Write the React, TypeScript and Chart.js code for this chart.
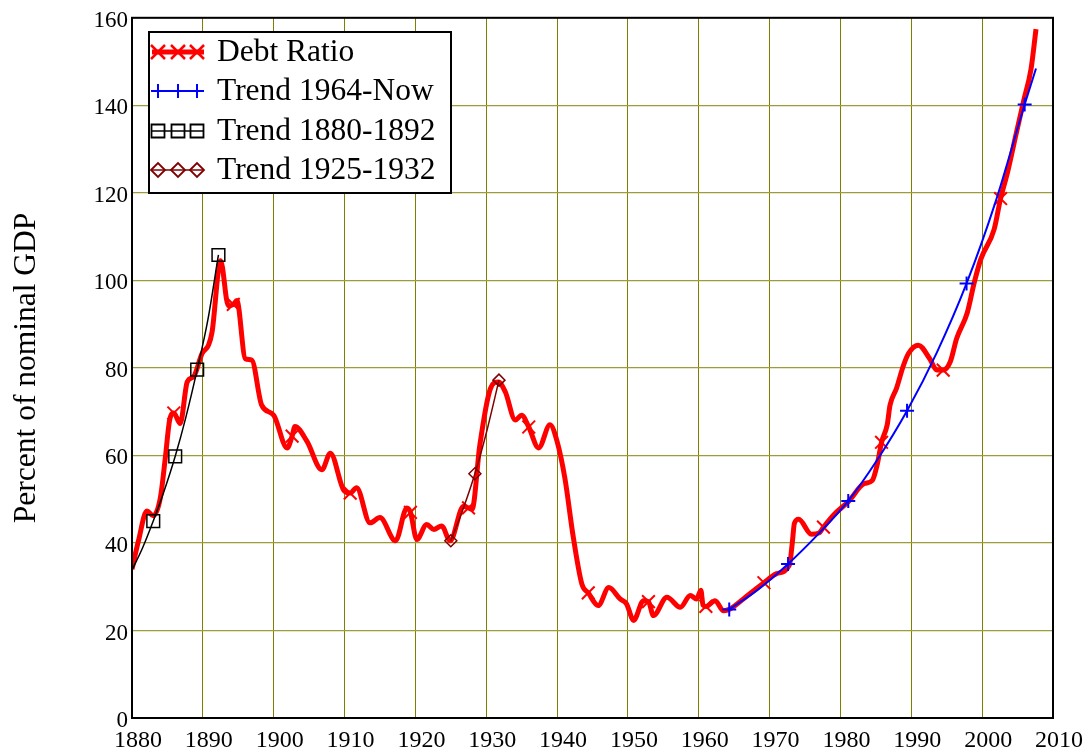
import React, { useEffect, useRef } from "react";
import { Chart, registerables } from "chart.js";

Chart.register(...registerables);

// ---- Data ----
const debtYears = [
  1880.0, 1880.9, 1882.1, 1883.0, 1884.0, 1884.7, 1885.3, 1885.9, 1886.8, 1887.8,
  1888.7, 1889.9, 1890.8, 1891.3, 1892.5, 1893.6, 1894.3, 1894.8, 1896.0, 1896.9,
  1898.3, 1900.0, 1901.9, 1902.6, 1903.0, 1904.7, 1906.8, 1908.0, 1909.9, 1910.8,
  1911.7, 1913.6, 1915.0, 1917.2, 1918.8, 1919.3, 1920.2, 1921.6, 1922.6, 1923.7,
  1924.9, 1926.8, 1927.5, 1928.0, 1929.1, 1930.6, 1931.7, 1932.7, 1934.1, 1935.0,
  1936.0, 1937.4, 1939.0, 1940.0, 1941.1, 1942.3, 1943.5, 1944.4, 1945.8, 1947.3,
  1948.9, 1949.8, 1950.8, 1952.2, 1952.9, 1953.6, 1955.5, 1957.4, 1958.8, 1959.7,
  1960.3, 1960.6, 1961.0, 1962.3, 1963.5, 1964.4, 1966.5, 1969.2, 1971.0, 1972.8,
  1973.2, 1973.5, 1974.1, 1975.9, 1977.0, 1977.6, 1979.1, 1981.2, 1983.3, 1984.5,
  1985.2, 1985.8, 1986.6, 1987.0, 1987.9, 1988.9, 1989.6, 1991.0, 1992.6, 1993.6,
  1994.5, 1995.5, 1996.4, 1997.9, 1998.9, 1999.8, 2001.7, 2002.6, 2003.6, 2004.8,
  2005.9, 2006.9, 2007.6,
];
const debtValues = [
  34.0, 40.4, 47.3, 46.2, 50.3, 59.4, 68.0, 69.7, 67.3, 76.8,
  78.0, 83.3, 85.2, 88.2, 104.5, 94.2, 94.5, 95.4, 82.1, 81.8,
  71.5, 69.2, 61.7, 64.4, 66.6, 63.2, 56.7, 60.5, 52.0, 51.4,
  52.6, 44.6, 45.8, 40.5, 48.0, 47.0, 40.8, 44.2, 43.1, 43.9,
  40.5, 48.4, 48.0, 47.7, 62.4, 75.3, 76.8, 74.5, 68.1, 69.2,
  66.5, 61.7, 67.0, 63.2, 54.8, 41.2, 30.6, 28.6, 25.7, 29.8,
  27.2, 26.1, 22.3, 26.8, 26.6, 23.4, 27.6, 25.3, 28.0, 27.2,
  29.2, 25.8, 25.5, 26.8, 24.5, 24.9, 27.5, 30.9, 33.0, 35.0,
  40.0, 44.5, 45.4, 42.0, 42.3, 43.6, 46.5, 49.6, 53.5, 54.3,
  58.0, 63.0, 67.0, 71.5, 75.3, 80.6, 83.3, 85.2, 82.1, 79.5,
  79.5, 81.4, 86.7, 92.6, 99.6, 104.8, 111.7, 118.7, 124.8, 133.5,
  141.3, 148.3, 157.4,
];
const debtMarkerYears = [
  1885.9, 1894.3, 1902.6, 1910.8, 1919.3, 1927.5, 1936.0, 1944.4, 1952.9,
  1961.0, 1969.2, 1977.6, 1985.8, 1994.5, 2002.6,
];

const trendNowYears = [
  1964.3, 1968.4, 1972.6, 1976.8, 1981.1, 1985.2, 1989.4, 1993.6, 1997.8, 2001.9, 2006.0, 2007.6,
];
const trendNowValues = [
  24.8, 29.4, 35.2, 41.9, 49.6, 59.0, 70.2, 83.5, 99.3, 118.0, 140.2, 148.4,
];
const trendNowMarkerYears = [1964.3, 1972.6, 1981.1, 1989.4, 1997.8, 2006.0];

const trend1880Years = [1880.0, 1881.5, 1883.0, 1884.5, 1886.1, 1887.6, 1889.2, 1890.7, 1892.2];
const trend1880Values = [33.8, 38.9, 45.0, 51.7, 59.8, 68.7, 79.6, 90.9, 105.8];
const trend1880MarkerYears = [1883.0, 1886.1, 1889.2, 1892.2];

const trend1925Years = [1925.0, 1926.7, 1928.4, 1930.1, 1931.8];
const trend1925Values = [40.5, 47.6, 55.8, 65.7, 77.2];
const trend1925MarkerYears = [1925.0, 1928.4, 1931.8];

const xTickYears = [1880, 1890, 1900, 1910, 1920, 1930, 1940, 1950, 1960, 1970, 1980, 1990, 2000, 2010];
const yTickValues = [0, 20, 40, 60, 80, 100, 120, 140, 160];

const seriesLabels = ["Debt Ratio", "Trend 1964-Now", "Trend 1880-1892", "Trend 1925-1932"];
const yAxisTitle = "Percent of nominal GDP";

const SERIF = "'Liberation Serif', 'Times New Roman', 'DejaVu Serif', serif";

function toXY(xs: number[], ys: number[]) {
  return xs.map((x, i) => ({ x, y: ys[i] }));
}

function markerRadius(years: number[], r: number) {
  return (ctx: any) => {
    const raw = ctx.raw;
    return raw && years.includes(raw.x) ? r : 0;
  };
}

function drawMarker(ctx: CanvasRenderingContext2D, kind: string, x: number, y: number) {
  ctx.beginPath();
  if (kind === "x") {
    const d = 7;
    ctx.moveTo(x - d, y - d);
    ctx.lineTo(x + d, y + d);
    ctx.moveTo(x + d, y - d);
    ctx.lineTo(x - d, y + d);
  } else if (kind === "+") {
    const d = 7;
    ctx.moveTo(x - d, y);
    ctx.lineTo(x + d, y);
    ctx.moveTo(x, y - d);
    ctx.lineTo(x, y + d);
  } else if (kind === "sq") {
    const d = 6.5;
    ctx.rect(x - d, y - d, 2 * d, 2 * d);
  } else if (kind === "dm") {
    const d = 7;
    ctx.moveTo(x - d, y);
    ctx.lineTo(x, y - d);
    ctx.lineTo(x + d, y);
    ctx.lineTo(x, y + d);
    ctx.closePath();
  }
  ctx.stroke();
}

const legendPlugin = {
  id: "customLegend",
  afterDraw(chart: any) {
    const ctx: CanvasRenderingContext2D = chart.ctx;
    ctx.save();
    const bx = 149, by = 32, bw = 302, bh = 161;
    ctx.fillStyle = "#ffffff";
    ctx.fillRect(bx, by, bw, bh);
    ctx.lineWidth = 2;
    ctx.strokeStyle = "#000000";
    ctx.strokeRect(bx, by, bw, bh);

    const rows = [
      { color: "#ff0000", lw: 5, mw: 2.5, kind: "x" },
      { color: "#0000ff", lw: 2, mw: 2, kind: "+" },
      { color: "#000000", lw: 1.5, mw: 1.8, kind: "sq" },
      { color: "#800000", lw: 1.5, mw: 1.8, kind: "dm" },
    ];
    const rowY = [52, 91, 131, 170];
    rows.forEach((r, i) => {
      const y = rowY[i];
      ctx.strokeStyle = r.color;
      ctx.lineWidth = r.lw;
      ctx.beginPath();
      ctx.moveTo(152, y);
      ctx.lineTo(204, y);
      ctx.stroke();
      ctx.lineWidth = r.mw;
      [158, 178, 197].forEach((mx) => drawMarker(ctx, r.kind, mx, y));
      ctx.fillStyle = "#000000";
      ctx.font = `31.5px ${SERIF}`;
      ctx.textBaseline = "middle";
      ctx.textAlign = "left";
      ctx.fillText(seriesLabels[i], 217, y + 1);
    });
    ctx.restore();
  },
};

const framePlugin = {
  id: "frame",
  afterDatasetsDraw(chart: any) {
    const { ctx, chartArea } = chart;
    ctx.save();
    ctx.strokeStyle = "#000000";
    ctx.lineWidth = 2;
    ctx.strokeRect(chartArea.left, chartArea.top, chartArea.right - chartArea.left, chartArea.bottom - chartArea.top);
    ctx.restore();
  },
};

export default function App() {
  const ref = useRef<HTMLCanvasElement>(null);

  useEffect(() => {
    const canvas = ref.current;
    if (!canvas) return;

    const chart = new Chart(canvas, {
      type: "line",
      data: {
        datasets: [
          {
            label: seriesLabels[0],
            data: toXY(debtYears, debtValues),
            borderColor: "#ff0000",
            borderWidth: 5,
            cubicInterpolationMode: "monotone",
            pointStyle: "crossRot",
            pointRadius: markerRadius(debtMarkerYears, 9),
            pointHoverRadius: markerRadius(debtMarkerYears, 9),
            pointBorderColor: "#ff0000",
            pointBorderWidth: 2,
            pointBackgroundColor: "#ff0000",
            fill: false,
            order: 1,
          },
          {
            label: seriesLabels[1],
            data: toXY(trendNowYears, trendNowValues),
            borderColor: "#0000ff",
            borderWidth: 2,
            cubicInterpolationMode: "monotone",
            pointStyle: "cross",
            pointRadius: markerRadius(trendNowMarkerYears, 7),
            pointHoverRadius: markerRadius(trendNowMarkerYears, 7),
            pointBorderColor: "#0000ff",
            pointBorderWidth: 2,
            fill: false,
            order: 0,
          },
          {
            label: seriesLabels[2],
            data: toXY(trend1880Years, trend1880Values),
            borderColor: "#000000",
            borderWidth: 1.5,
            cubicInterpolationMode: "monotone",
            pointStyle: "rect",
            pointRadius: markerRadius(trend1880MarkerYears, 9),
            pointHoverRadius: markerRadius(trend1880MarkerYears, 9),
            pointBorderColor: "#000000",
            pointBackgroundColor: "rgba(0,0,0,0)",
            pointBorderWidth: 1.5,
            fill: false,
            order: 0,
          },
          {
            label: seriesLabels[3],
            data: toXY(trend1925Years, trend1925Values),
            borderColor: "#800000",
            borderWidth: 1.5,
            cubicInterpolationMode: "monotone",
            pointStyle: "rectRot",
            pointRadius: markerRadius(trend1925MarkerYears, 6),
            pointHoverRadius: markerRadius(trend1925MarkerYears, 6),
            pointBorderColor: "#800000",
            pointBackgroundColor: "rgba(0,0,0,0)",
            pointBorderWidth: 1.5,
            fill: false,
            order: 0,
          },
        ],
      },
      options: {
        responsive: false,
        animation: false,
        events: [],
        layout: { padding: { left: 0, right: 35, top: 14, bottom: 0 } },
        plugins: {
          legend: { display: false },
          tooltip: { enabled: false },
        },
        scales: {
          x: {
            type: "linear",
            min: 1880,
            max: 2010,
            afterBuildTicks: (scale: any) => {
              scale.ticks = xTickYears.map((v) => ({ value: v }));
            },
            afterFit: (scale: any) => {
              scale.height = 35;
            },
            grid: { color: "#808000", lineWidth: 1, drawTicks: false },
            border: { display: false },
            ticks: {
              color: "#000000",
              font: { family: SERIF, size: 24 },
              padding: 8,
              labelOffset: 6,
              maxRotation: 0,
              autoSkip: false,
              callback: (v: any) => String(v),
            },
          },
          y: {
            type: "linear",
            min: 0,
            max: 160,
            afterBuildTicks: (scale: any) => {
              scale.ticks = yTickValues.map((v) => ({ value: v }));
            },
            afterFit: (scale: any) => {
              scale.width = 132;
            },
            grid: { color: "#9c9c3c", lineWidth: 1.3, drawTicks: false },
            border: { display: false },
            ticks: {
              color: "#000000",
              font: { family: SERIF, size: 23 },
              padding: 4,
              labelOffset: 3,
              callback: (v: any) => String(v),
            },
            title: {
              display: true,
              text: yAxisTitle,
              color: "#000000",
              font: { family: SERIF, size: 31.5 },
              padding: { top: 8, bottom: 0 },
            },
          },
        },
      },
      plugins: [framePlugin, legendPlugin],
    } as any);

    return () => chart.destroy();
  }, []);

  return (
    <div style={{ position: "fixed", left: 0, top: 0, width: 1088, height: 753, background: "#ffffff" }}>
      <canvas ref={ref} width={1088} height={753} style={{ display: "block" }} />
    </div>
  );
}
